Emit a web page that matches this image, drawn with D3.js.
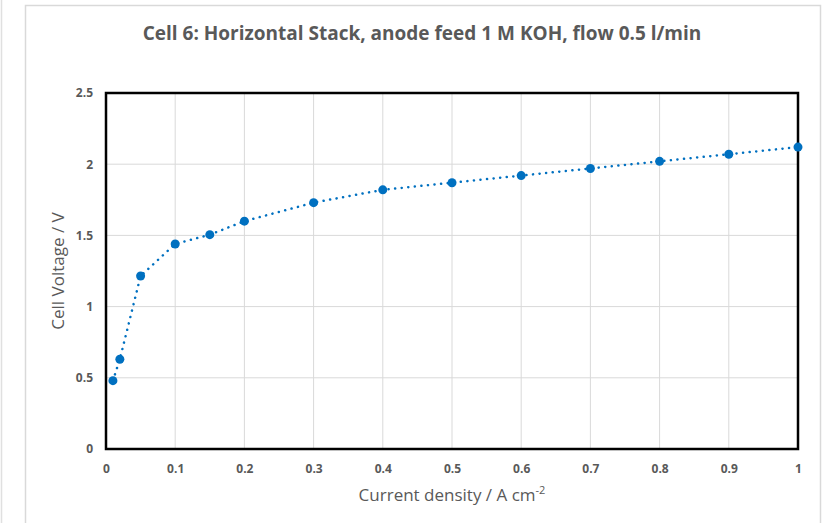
<!DOCTYPE html>
<html>
<head>
<meta charset="utf-8">
<script src="https://cdn.jsdelivr.net/npm/d3@7"></script>
<style>
  body { margin: 0; background: #fff; }
  text { font-family: "Open Sans", "Noto Sans", sans-serif; fill: #595959; }
</style>
</head>
<body>
<div id="chart"></div>
<script>
const currentDensity = [0.01, 0.02, 0.05, 0.1, 0.15, 0.2, 0.3, 0.4, 0.5, 0.6, 0.7, 0.8, 0.9, 1.0]
const cellVoltage = [0.48, 0.63, 1.215, 1.44, 1.505, 1.60, 1.73, 1.82, 1.87, 1.92, 1.97, 2.02, 2.07, 2.12]
const xTicks = [0, 0.1, 0.2, 0.3, 0.4, 0.5, 0.6, 0.7, 0.8, 0.9, 1]
const yTicks = [0, 0.5, 1, 1.5, 2, 2.5]

const width = 826, height = 523
const margin = { top: 93, right: 28, bottom: 74, left: 106 }

const svg = d3.select('#chart').append('svg').attr('width', width).attr('height', height)

// chart frame
svg.append('line').attr('x1', 1.5).attr('x2', 1.5).attr('y1', 0).attr('y2', height)
  .attr('stroke', '#e0e0e0').attr('stroke-width', 1.5)
svg.append('rect').attr('x', 25.5).attr('y', 5.5).attr('width', 795).attr('height', height)
  .attr('fill', 'none').attr('stroke', '#d9d9d9').attr('stroke-width', 1.5)

const x = d3.scaleLinear().domain([0, 1]).range([margin.left, width - margin.right])
const y = d3.scaleLinear().domain([0, 2.5]).range([height - margin.bottom, margin.top])

// gridlines
svg.append('g').selectAll('line').data(xTicks).join('line')
  .attr('x1', d => x(d)).attr('x2', d => x(d))
  .attr('y1', y(0)).attr('y2', y(2.5))
  .attr('stroke', '#d9d9d9').attr('stroke-width', 1)
svg.append('g').selectAll('line').data(yTicks).join('line')
  .attr('x1', x(0)).attr('x2', x(1))
  .attr('y1', d => y(d)).attr('y2', d => y(d))
  .attr('stroke', '#d9d9d9').attr('stroke-width', 1)

// axes (labels only)
const xAxis = svg.append('g').attr('transform', `translate(0,${y(0)})`)
  .call(d3.axisBottom(x).tickValues(xTicks).tickSize(0).tickPadding(15).tickFormat(d3.format('')))
const yAxis = svg.append('g').attr('transform', `translate(${x(0)},0)`)
  .call(d3.axisLeft(y).tickValues(yTicks).tickSize(0).tickPadding(13).tickFormat(d3.format('')))
;[xAxis, yAxis].forEach(a => {
  a.select('.domain').remove()
  a.selectAll('text').style('font-size', '12px').style('font-weight', 'bold')
    .style('font-family', '"Open Sans", sans-serif').attr('fill', '#595959')
})

// plot border
svg.append('rect').attr('x', x(0)).attr('y', y(2.5))
  .attr('width', x(1) - x(0)).attr('height', y(0) - y(2.5))
  .attr('fill', 'none').attr('stroke', '#000').attr('stroke-width', 2.5)

// series
const pts = currentDensity.map((d, i) => [d, cellVoltage[i]])
svg.append('path').datum(pts)
  .attr('fill', 'none').attr('stroke', '#0070c0').attr('stroke-width', 2.5)
  .attr('stroke-linecap', 'round').attr('stroke-dasharray', '0.1 6.5')
  .attr('d', d3.line().x(d => x(d[0])).y(d => y(d[1])))
svg.append('g').selectAll('circle').data(pts).join('circle')
  .attr('cx', d => x(d[0])).attr('cy', d => y(d[1])).attr('r', 4.5)
  .attr('fill', '#0070c0')

// titles
svg.append('text').attr('x', 422).attr('y', 40).attr('text-anchor', 'middle')
  .style('font-size', '19px').style('font-weight', 'bold')
  .text('Cell 6: Horizontal Stack, anode feed 1 M KOH, flow 0.5 l/min')

const xt = svg.append('text').attr('x', (x(0) + x(1)) / 2).attr('y', 501).attr('text-anchor', 'middle')
  .style('font-size', '17px')
xt.append('tspan').text('Current density / A cm')
xt.append('tspan').attr('dy', -7).style('font-size', '11px').text('-2')

svg.append('text')
  .attr('transform', `translate(64,${(y(0) + y(2.5)) / 2}) rotate(-90)`)
  .attr('text-anchor', 'middle').style('font-size', '17px')
  .text('Cell Voltage / V')
</script>
</body>
</html>
